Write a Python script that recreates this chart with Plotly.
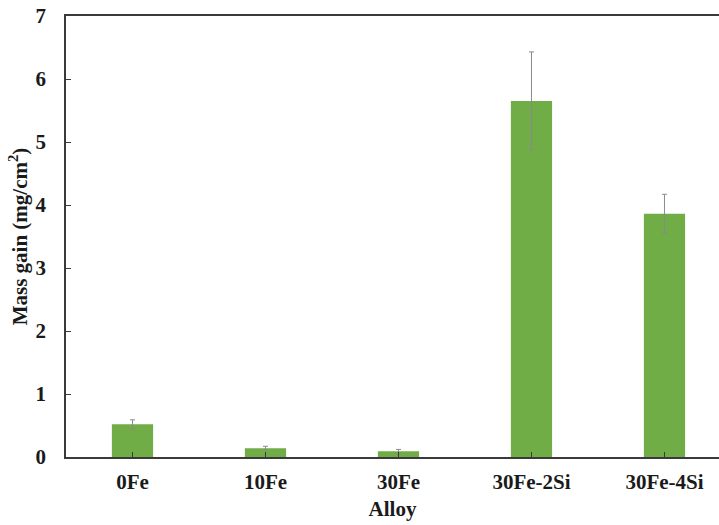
import plotly.graph_objects as go

# Mass gain per alloy with standard deviations
alloys = ["0Fe", "10Fe", "30Fe", "30Fe-2Si", "30Fe-4Si"]
mass_gain = [0.52, 0.14, 0.09, 5.65, 3.86]
mass_gain_err = [0.07, 0.03, 0.03, 0.78, 0.31]
y_ticks = [0, 1, 2, 3, 4, 5, 6, 7]

font_family = "Liberation Serif, Times New Roman, serif"
axis_color = "#3a3a3a"

fig = go.Figure(
    go.Bar(
        x=list(range(len(alloys))),
        y=mass_gain,
        width=0.31,
        marker=dict(color="#70AD47", line=dict(width=0)),
        error_y=dict(
            type="data",
            array=mass_gain_err,
            visible=True,
            color="#8a8a8a",
            thickness=1,
            width=2.5,
        ),
    )
)

fig.update_layout(
    width=719,
    height=525,
    margin=dict(l=66, r=0, t=16, b=68),
    plot_bgcolor="white",
    paper_bgcolor="white",
    showlegend=False,
    font=dict(family=font_family, size=21, color="#1a1a1a", weight="bold"),
    xaxis=dict(
        range=[-0.5, 4.41],
        tickmode="array",
        tickvals=list(range(len(alloys))),
        ticktext=alloys,
        tickson="boundaries",
        ticks="inside",
        ticklen=5,
        tickwidth=1.2,
        tickcolor=axis_color,
        showline=True,
        linecolor=axis_color,
        linewidth=1.5,
        mirror=True,
        showgrid=False,
        zeroline=False,
        ticklabelstandoff=5,
        title=dict(text="Alloy", standoff=8, font=dict(size=21, weight="bold")),
    ),
    yaxis=dict(
        range=[0, 7],
        tickmode="array",
        tickvals=y_ticks,
        ticks="inside",
        ticklen=5,
        tickwidth=1.2,
        tickcolor=axis_color,
        showline=True,
        linecolor=axis_color,
        linewidth=1.5,
        showgrid=False,
        zeroline=False,
        ticklabelstandoff=14,
        title=dict(
            text="Mass gain (mg/cm<sup>2</sup>)",
            standoff=2,
            font=dict(size=21, weight="bold"),
        ),
    ),
)

fig.write_html("out.html")
